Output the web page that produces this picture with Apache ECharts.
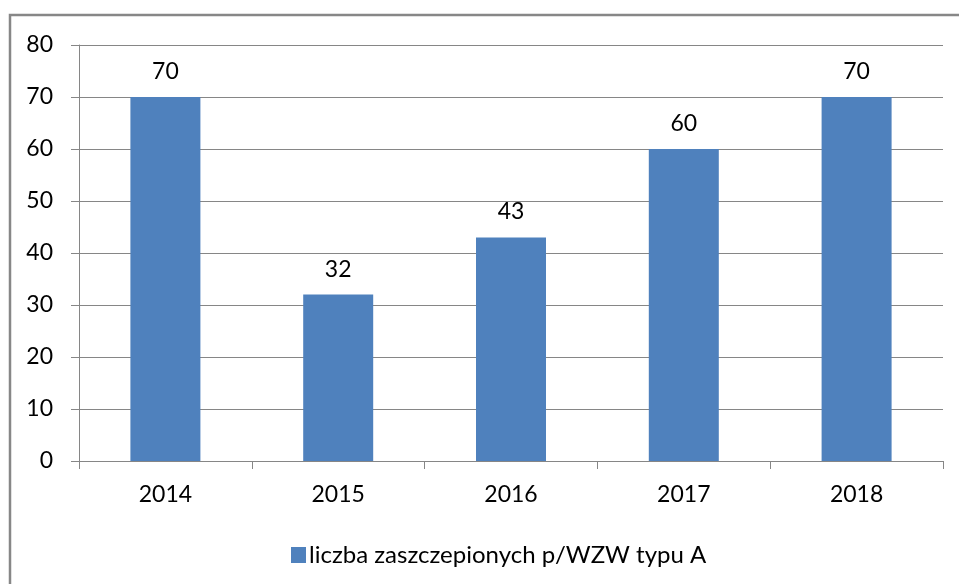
<!DOCTYPE html>
<html>
<head>
<meta charset="utf-8">
<script src="https://cdn.jsdelivr.net/npm/echarts@6/dist/echarts.min.js"></script>
<style>
  html, body { margin: 0; padding: 0; background: #fff; }
  #chart { width: 959px; height: 584px; }
</style>
</head>
<body>
<div id="chart"></div>
<script>
var years = ['2014', '2015', '2016', '2017', '2018'];
var vaccinated = [70, 32, 43, 60, 70];
var seriesName = 'liczba zaszczepionych p/WZW typu A';

var myChart = echarts.init(document.getElementById('chart'));

var font = 'Lato, "Open Sans", sans-serif';

var option = {
    animation: false,
    backgroundColor: '#fff',
    textStyle: { fontFamily: font },
    graphic: [{
        // outer chart-area border (only left/top visible in the picture)
        type: 'rect',
        shape: { x: 10, y: 15, width: 1000, height: 700 },
        style: { fill: 'none', stroke: '#878787', lineWidth: 2.5 }
    }],
    grid: {
        left: 79,
        right: 16,
        top: 45,
        bottom: 123,
        containLabel: false
    },
    legend: {
        data: [seriesName],
        left: 286,
        top: 538,
        itemWidth: 15,
        itemHeight: 16,
        itemGap: 5,
        icon: 'rect',
        textStyle: { fontSize: 24, color: '#000', fontFamily: font, padding: [0, 0, 0, -2] }
    },
    xAxis: {
        type: 'category',
        data: years,
        axisLine: { lineStyle: { color: '#868686', width: 1 } },
        axisTick: { show: true, length: 8, alignWithLabel: false, lineStyle: { color: '#868686' } },
        axisLabel: { fontSize: 23, color: '#000', margin: 22 }
    },
    yAxis: {
        type: 'value',
        min: 0,
        max: 80,
        interval: 10,
        axisLine: { show: true, lineStyle: { color: '#868686', width: 1 } },
        axisTick: { show: true, length: 8, lineStyle: { color: '#868686' } },
        axisLabel: { fontSize: 23, color: '#000', margin: 26 },
        splitLine: { lineStyle: { color: '#868686', width: 1 } }
    },
    series: [{
        name: seriesName,
        type: 'bar',
        data: vaccinated,
        barWidth: 70,
        itemStyle: { color: '#4F81BD' },
        label: {
            show: true,
            position: 'top',
            distance: 14,
            fontSize: 23,
            color: '#000'
        }
    }]
};

myChart.setOption(option);
</script>
</body>
</html>
